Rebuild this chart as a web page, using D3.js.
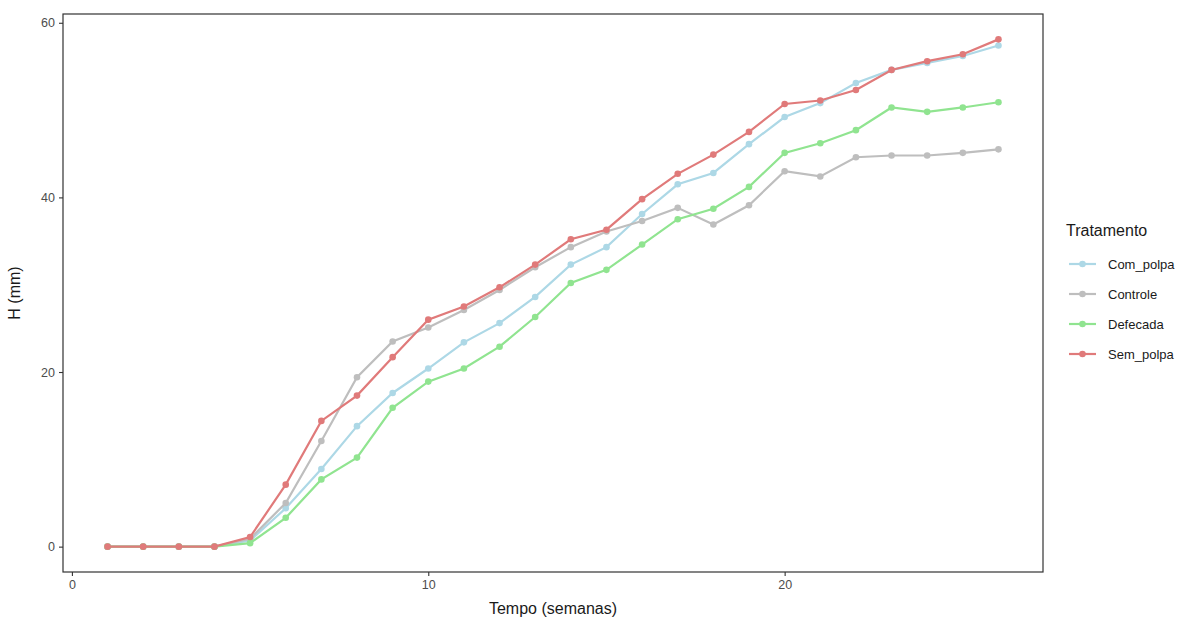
<!DOCTYPE html>
<html>
<head>
<meta charset="utf-8">
<script src="https://cdn.jsdelivr.net/npm/d3@7"></script>
<style>
  body { margin: 0; background: #fff; }
  svg text { font-family: "Liberation Sans", Arial, sans-serif; }
</style>
</head>
<body>
<script>
// semanas 1..26
var semanas = d3.range(1, 27);

var tratamentos = ["Com_polpa", "Controle", "Defecada", "Sem_polpa"];
var cores = ["#add8e6", "#bebebe", "#90e490", "#e07a7a"];

var comPolpa = [0, 0, 0, 0, 0.7, 4.4, 8.9, 13.8, 17.6, 20.4, 23.4, 25.6, 28.6, 32.3, 34.3,
                38.1, 41.5, 42.8, 46.1, 49.2, 50.8, 53.1, 54.6, 55.4, 56.2, 57.4];
var controle = [0, 0, 0, 0, 0.9, 5.0, 12.1, 19.4, 23.5, 25.1, 27.1, 29.4, 32.0, 34.3, 36.1,
                37.3, 38.8, 36.9, 39.1, 43.0, 42.4, 44.6, 44.8, 44.8, 45.1, 45.5];
var defecada = [0, 0, 0, 0, 0.4, 3.3, 7.7, 10.2, 15.9, 18.9, 20.4, 22.9, 26.3, 30.2, 31.7,
                34.6, 37.5, 38.7, 41.2, 45.1, 46.2, 47.7, 50.3, 49.8, 50.3, 50.9];
var semPolpa = [0, 0, 0, 0, 1.1, 7.1, 14.4, 17.3, 21.7, 26.0, 27.5, 29.7, 32.3, 35.2, 36.3,
                39.8, 42.7, 44.9, 47.5, 50.7, 51.1, 52.3, 54.6, 55.6, 56.4, 58.1];

var valores = [comPolpa, controle, defecada, semPolpa];

var xTicks = [0, 10, 20];
var yTicks = [0, 20, 40, 60];

var width = 1197, height = 624;
var margin = {top: 14, right: 154, bottom: 52, left: 63};
var pw = width - margin.left - margin.right;
var ph = height - margin.top - margin.bottom;

var series = tratamentos.map(function(t, i) {
    return {name: t, color: cores[i], values: semanas.map(function(s, j) { return {x: s, y: valores[i][j]}; })};
});

var xmin = d3.min(semanas), xmax = d3.max(semanas);
var xpad = (xmax - xmin) * 0.05;
var ymax = d3.max(valores, function(v) { return d3.max(v); });
var ypad = ymax * 0.05;

var x = d3.scaleLinear().domain([xmin - xpad, xmax + xpad]).range([0, pw]);
var y = d3.scaleLinear().domain([0 - ypad, ymax + ypad]).range([ph, 0]);

var svg = d3.select("body").append("svg")
    .attr("width", width).attr("height", height)
    .append("g")
    .attr("transform", "translate(" + margin.left + "," + margin.top + ")");

// axes
var xAxis = svg.append("g").attr("transform", "translate(0," + ph + ")")
    .call(d3.axisBottom(x).tickValues(xTicks).tickSize(4).tickPadding(4));
var yAxis = svg.append("g")
    .call(d3.axisLeft(y).tickValues(yTicks).tickSize(4).tickPadding(4));

[xAxis, yAxis].forEach(function(a) {
    a.select(".domain").remove();
    a.selectAll(".tick line").attr("stroke", "#333").attr("stroke-width", 1.1);
    a.selectAll(".tick text").attr("fill", "#4d4d4d").style("font-size", "12.5px");
});

// panel border
svg.append("rect")
    .attr("width", pw).attr("height", ph)
    .attr("fill", "none").attr("stroke", "#333").attr("stroke-width", 1.2);

// lines + points
var line = d3.line().x(function(d) { return x(d.x); }).y(function(d) { return y(d.y); });

var g = svg.selectAll(".serie").data(series).enter().append("g").attr("class", "serie");
g.append("path")
    .attr("d", function(d) { return line(d.values); })
    .attr("fill", "none")
    .attr("stroke", function(d) { return d.color; })
    .attr("stroke-width", 2.2);
g.selectAll("circle").data(function(d) { return d.values.map(function(v) { return {x: v.x, y: v.y, c: d.color}; }); })
    .enter().append("circle")
    .attr("cx", function(d) { return x(d.x); })
    .attr("cy", function(d) { return y(d.y); })
    .attr("r", 3.3)
    .attr("fill", function(d) { return d.c; });

// axis titles
svg.append("text")
    .attr("x", pw / 2).attr("y", ph + 42)
    .attr("text-anchor", "middle")
    .style("font-size", "16px").attr("fill", "#1a1a1a")
    .text("Tempo (semanas)");
svg.append("text")
    .attr("transform", "translate(-43," + (ph / 2) + ") rotate(-90)")
    .attr("text-anchor", "middle")
    .style("font-size", "16px").attr("fill", "#1a1a1a")
    .text("H (mm)");

// legend
var legend = d3.select("svg").append("g").attr("transform", "translate(1066,0)");
legend.append("text").attr("x", 0).attr("y", 236)
    .style("font-size", "16px").attr("fill", "#1a1a1a").text("Tratamento");
var items = legend.selectAll(".item").data(series).enter().append("g")
    .attr("transform", function(d, i) { return "translate(0," + (264 + i * 30) + ")"; });
items.append("line").attr("x1", 3).attr("x2", 30).attr("y1", 0).attr("y2", 0)
    .attr("stroke", function(d) { return d.color; }).attr("stroke-width", 2.2);
items.append("circle").attr("cx", 16.5).attr("cy", 0).attr("r", 3.3)
    .attr("fill", function(d) { return d.color; });
items.append("text").attr("x", 42).attr("y", 5)
    .style("font-size", "13px").attr("fill", "#1a1a1a")
    .text(function(d) { return d.name; });
</script>
</body>
</html>
